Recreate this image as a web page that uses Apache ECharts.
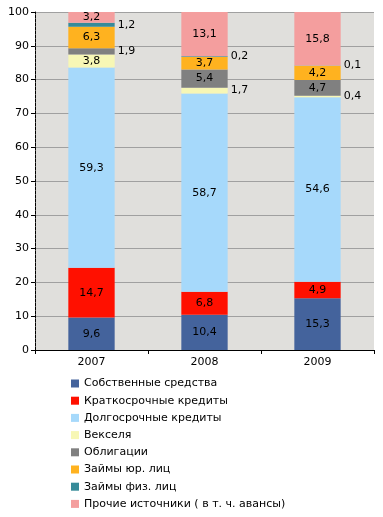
<!DOCTYPE html>
<html><head><meta charset="utf-8">
<script src="https://cdn.jsdelivr.net/npm/echarts@6/dist/echarts.min.js"></script>
<style>html,body{margin:0;padding:0;background:#fff}#c{width:383px;height:517px}</style>
</head><body><div id="c"></div>
<script>
const categories = ['2007', '2008', '2009'];
const seriesNames = ['Собственные средства','Краткосрочные кредиты','Долгосрочные кредиты','Векселя','Облигации','Займы юр. лиц','Займы физ. лиц','Прочие источники ( в т. ч. авансы)'];
const sobstvennye = [9.6, 10.4, 15.3];
const kratkosrochnye = [14.7, 6.8, 4.9];
const dolgosrochnye = [59.3, 58.7, 54.6];
const vekselya = [3.8, 1.7, 0.4];
const obligatsii = [1.9, 5.4, 4.7];
const zaimyYur = [6.3, 3.7, 4.2];
const zaimyFiz = [1.2, 0.2, 0.1];
const prochie = [3.2, 13.1, 15.8];
const yTicks = [0,10,20,30,40,50,60,70,80,90,100];

const values = [sobstvennye, kratkosrochnye, dolgosrochnye, vekselya, obligatsii, zaimyYur, zaimyFiz, prochie];
const colors = ['#44639c','#ff1000','#a6d9fb','#f7f7b5','#808080','#ffb21f','#378b99','#f49e9e'];
const FONT = 'DejaVu Sans';
const fmt = v => String(v).replace('.', ',');

const series = values.map((arr, i) => ({
  name: seriesNames[i],
  type: 'bar',
  stack: 'total',
  barWidth: '41%',
  itemStyle: { color: colors[i] },
  data: arr.map(v => ({
    value: v,
    label: {
      show: true,
      position: v < 2.5 ? 'right' : 'inside',
      distance: 3,
      formatter: p => fmt(p.value),
      color: '#000',
      fontFamily: FONT,
      fontSize: 11
    }
  }))
}));

const chart = echarts.init(document.getElementById('c'), null, { renderer: 'canvas' });
chart.setOption({
  animation: false,
  backgroundColor: '#fff',
  grid: { left: 35, right: 9, top: 12, bottom: 167, show: true, backgroundColor: '#e0dfdc', borderWidth: 0 },
  xAxis: {
    type: 'category',
    data: categories,
    axisLine: { lineStyle: { color: '#000', width: 1 } },
    axisTick: { show: true, length: 4, lineStyle: { color: '#000' } },
    axisLabel: { color: '#000', fontFamily: FONT, fontSize: 11, margin: 7 }
  },
  yAxis: {
    type: 'value',
    min: 0, max: 100, interval: 10,
    axisLine: { show: true, lineStyle: { color: '#000', width: 1, type: [3, 1] } },
    axisTick: { show: true, length: 4, lineStyle: { color: '#000' } },
    axisLabel: { color: '#000', fontFamily: FONT, fontSize: 11, margin: 6,
      formatter: v => yTicks.includes(v) ? String(v) : '' },
    splitLine: { show: true, lineStyle: { color: '#a0a0a0', width: 1 } }
  },
  legend: {
    orient: 'vertical',
    left: 66, top: 373,
    itemWidth: 8, itemHeight: 8, itemGap: 6.2,
    icon: 'rect',
    textStyle: { color: '#000', fontFamily: FONT, fontSize: 11, padding: [0,0,0,0] },
    data: seriesNames
  },
  series: series
});
</script></body></html>
